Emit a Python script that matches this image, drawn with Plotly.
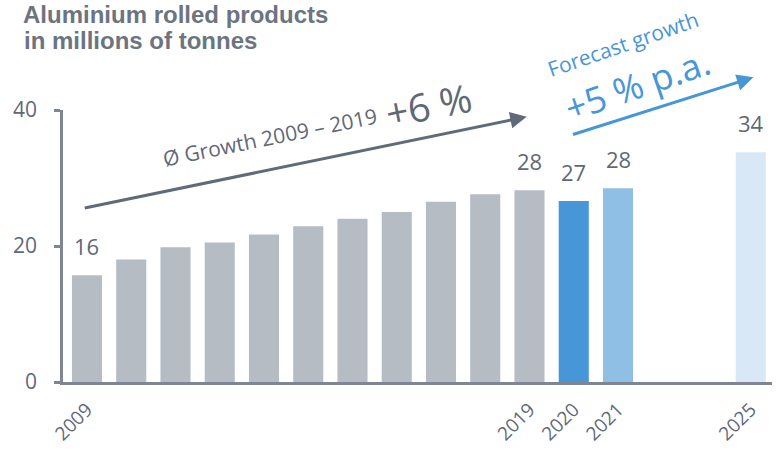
import plotly.graph_objects as go

# ---- data ----
years = [2009, 2010, 2011, 2012, 2013, 2014, 2015, 2016, 2017, 2018, 2019, 2020, 2021, 2025]
values = [15.7, 18.0, 19.8, 20.5, 21.7, 22.9, 24.0, 25.0, 26.5, 27.6, 28.2, 26.6, 28.5, 33.8]
value_labels = ["16", "", "", "", "", "", "", "", "", "", "28", "27", "28", "34"]
tick_labels = ["2009", "", "", "", "", "", "", "", "", "", "2019", "2020", "2021", "2025"]
bar_colors = ["#b6bcc4"] * 11 + ["#4796d8", "#90bfe6", "#d9e8f6"]

# slot on the axis: consecutive years, then a compressed gap before 2025
slots = []
for i, y in enumerate(years):
    slots.append(i if y <= 2021 else i + 2)

GREY_TXT = "#5f6976"
AXIS = "#7d8692"
BLUE = "#4796d8"
FONT = "Open Sans"

fig = go.Figure()
fig.add_trace(go.Bar(
    x=slots, y=values, width=0.68,
    marker=dict(color=bar_colors, line=dict(width=0)),
    hoverinfo="skip",
))

annotations = []
for s, v, lab in zip(slots, values, value_labels):
    if lab:
        annotations.append(dict(
            x=s, y=v, xref="x", yref="y", text=lab, showarrow=False,
            xanchor="center", yanchor="bottom", yshift=12,
            font=dict(family=FONT, size=22, color=GREY_TXT),
        ))

# grey growth arrow
annotations.append(dict(
    x=9.937, y=39.01, ax=-0.084, ay=25.54, xref="x", yref="y", axref="x", ayref="y",
    text="", showarrow=True, arrowhead=2, arrowsize=1.1, arrowwidth=3,
    arrowcolor="#5f6b78", standoff=0, startstandoff=0,
))
annotations.append(dict(
    x=4.145, y=36.0, xref="x", yref="y", text="Ø Growth 2009 – 2019",
    showarrow=False, textangle=-11.5, xanchor="center", yanchor="middle",
    font=dict(family=FONT, size=21, color="#5f6976"),
))
annotations.append(dict(
    x=0.515, y=1.02, xref="paper", yref="paper", text="+6 %",
    showarrow=False, textangle=-11.5, xanchor="center", yanchor="middle",
    font=dict(family=FONT, size=39, color="#5f6976"),
))

# blue forecast arrow
annotations.append(dict(
    x=15.06, y=44.81, ax=10.95, ay=36.32, xref="x", yref="y", axref="x", ayref="y",
    text="", showarrow=True, arrowhead=2, arrowsize=1.1, arrowwidth=3,
    arrowcolor=BLUE, standoff=0, startstandoff=0,
))
annotations.append(dict(
    x=0.7898, y=1.243, xref="paper", yref="paper", text="Forecast growth",
    showarrow=False, textangle=-19, xanchor="center", yanchor="middle",
    font=dict(family=FONT, size=21, color=BLUE),
))
annotations.append(dict(
    x=0.811, y=1.093, xref="paper", yref="paper", text="+5 % p.a.",
    showarrow=False, textangle=-19, xanchor="center", yanchor="middle",
    font=dict(family=FONT, size=36, color=BLUE),
))

# title
annotations.append(dict(
    x=-0.058, y=1.4044, xref="paper", yref="paper", text="<b>Aluminium rolled products</b>",
    showarrow=False, xanchor="left", yanchor="top", borderpad=0,
    font=dict(family="Liberation Sans", size=24, color="#6c747f"),
))
annotations.append(dict(
    x=-0.058, y=1.256, xref="paper", yref="paper", text="<b>in millions of tonnes</b>",
    showarrow=False, xanchor="left", yanchor="middle",
    font=dict(family="Liberation Sans", size=24, color="#6c747f"),
))

fig.update_layout(
    width=777, height=452,
    margin=dict(l=63, r=5, t=110, b=70, pad=0),
    plot_bgcolor="white", paper_bgcolor="white",
    showlegend=False,
    annotations=annotations,
    xaxis=dict(
        range=[-0.542, 15.48], tickmode="array", tickvals=slots, ticktext=tick_labels,
        tickangle=-45, showgrid=False, zeroline=False, showline=True,
        linecolor=AXIS, linewidth=3, ticks="", ticklabelstandoff=6,
        tickfont=dict(family=FONT, size=19, color=GREY_TXT),
    ),
    yaxis=dict(
        range=[0, 40], tickvals=[0, 20, 40], showgrid=False, zeroline=False,
        showline=True, linecolor=AXIS, linewidth=2.5, ticks="outside", ticklen=6,
        tickwidth=2.5, tickcolor=AXIS, ticklabelstandoff=13,
        tickfont=dict(family=FONT, size=21, color=GREY_TXT),
    ),
)

fig.write_html("out.html")
